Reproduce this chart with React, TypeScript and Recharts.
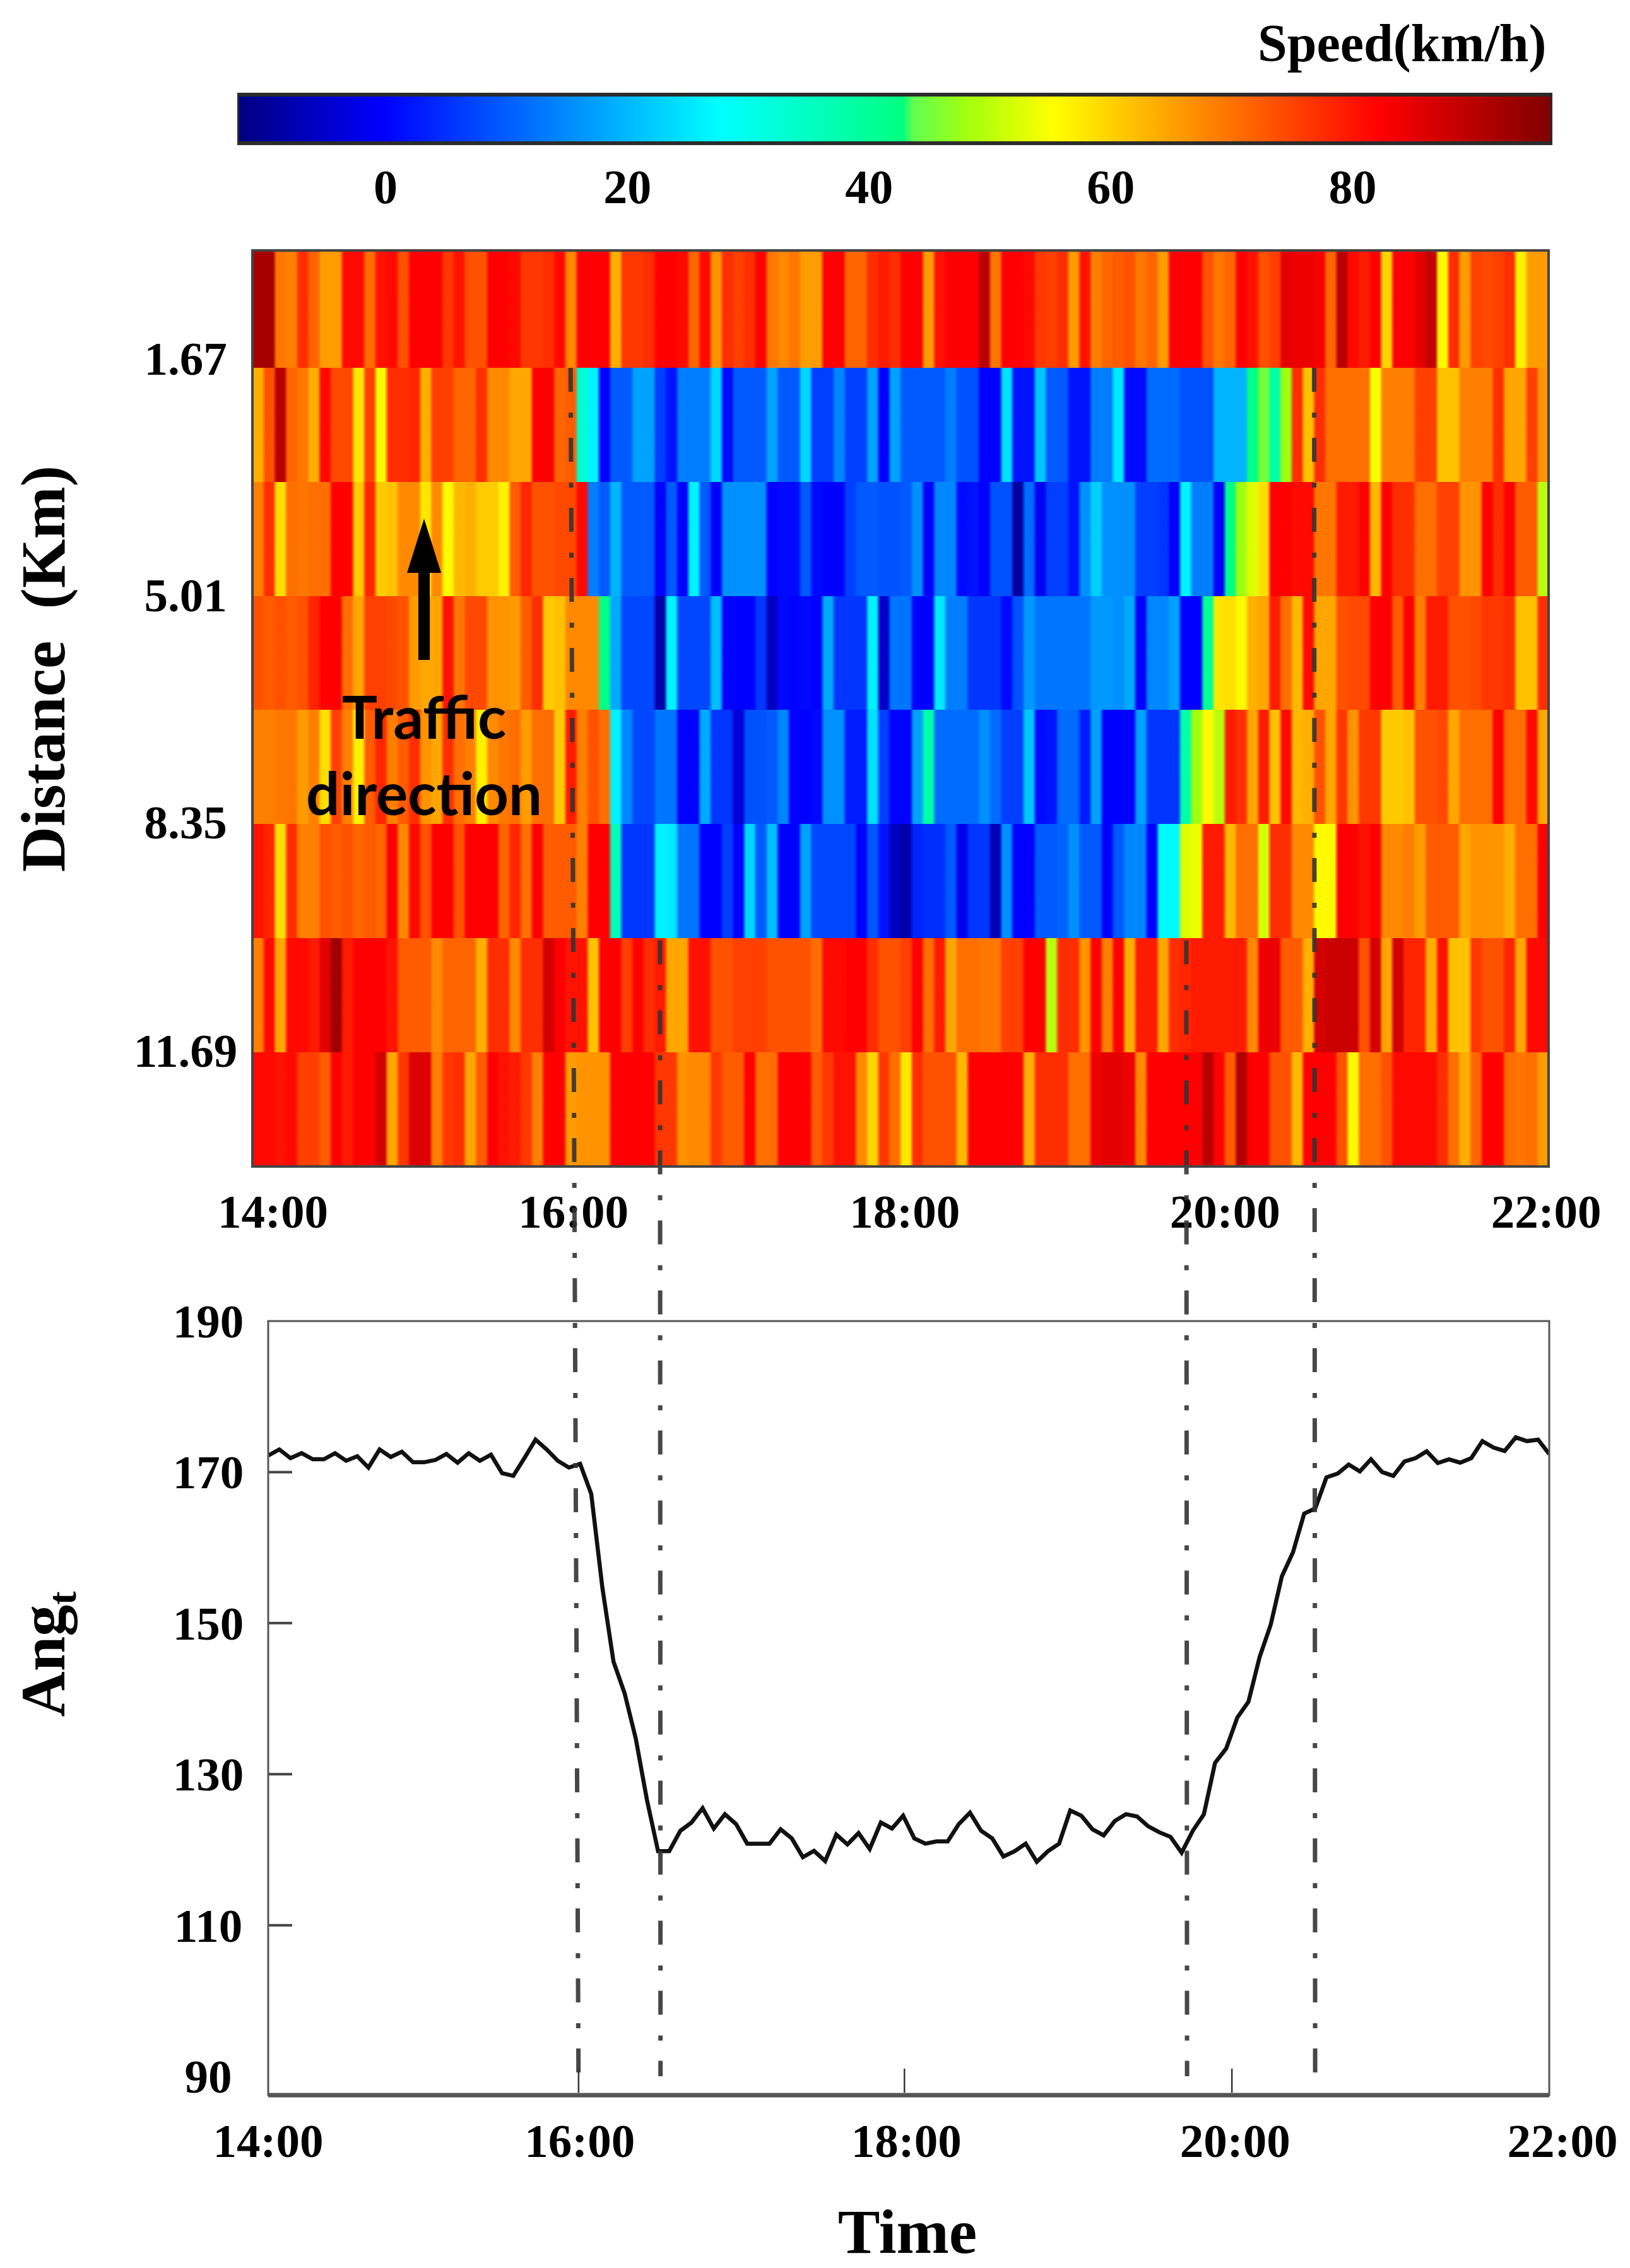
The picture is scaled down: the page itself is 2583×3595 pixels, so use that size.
/**
 * Speed heatmap and Ang_t curve on a shared time axis
 */

import React from 'react'
import {
  Bar,
  BarChart,
  Cell,
  Line,
  LineChart,
  XAxis,
  YAxis,
} from 'recharts'

const SERIF = '"Liberation Serif", serif'

// km/h, one list per 1.67 km road section, top of the plot first
const section1 = [
  95,95,72,71,80,74,68,68,84,84, 73,83,84,76,85,85,85,79,83,76,
  76,85,85,84,79,79,80,84,70,85, 85,85,66,79,79,80,85,85,84,74,
  84,69,80,78,80,85,72,70,72,68, 68,85,85,74,74,80,82,80,85,85,
  68,83,85,85,85,93,72,85,85,84, 79,78,80,68,83,71,74,75,76,72,
  74,68,85,85,85,76,72,74,85,83, 76,78,88,87,87,86,74,93,84,82,
  85,62,85,85,88,92,58,80,68,78, 77,78,80,59,68,68,
]
const section2 = [
  66,76,93,74,72,66,84,77,77,60, 78,58,80,80,81,66,78,78,74,74,
  80,70,70,67,67,85,85,74,75,35, 28,1,11,11,19,19,8,3,15,15,
  15,25,2,11,11,11,19,11,11,25, 8,8,16,8,8,19,1,19,11,11,
  11,11,15,10,10,1,1,26,3,3, 23,11,11,3,3,15,15,27,2,2,
  13,13,13,10,10,10,21,21,21,44, 47,40,50,80,64,80,73,73,73,73,
  57,71,71,71,78,78,64,64,71,71, 71,80,67,67,78,69,
]
const section3 = [
  71,80,61,73,72,73,73,85,85,63, 81,63,64,70,70,60,70,58,65,66,
  63,63,59,75,81,76,76,77,77,84, 15,11,21,11,11,11,1,11,1,28,
  11,1,17,17,17,17,1,2,2,11, 2,1,1,8,11,11,10,10,11,17,
  1,16,16,2,3,1,10,10,-8,13, 0,8,8,3,17,24,17,17,17,8,
  8,7,1,28,15,15,1,44,50,55, 61,85,85,84,84,72,72,82,82,85,
  65,85,80,80,73,73,78,78,69,69, 85,80,85,75,75,52,
]
const section4 = [
  76,75,76,75,76,81,85,85,73,67, 78,78,77,76,68,67,67,83,72,77,
  77,69,69,68,75,80,63,64,70,70, 70,44,20,9,9,9,-7,28,9,9,
  9,22,1,1,1,7,-5,2,1,2, 1,20,7,7,7,28,-4,14,14,1,
  1,27,15,15,7,7,7,2,10,18, 14,14,14,14,14,18,18,17,20,1,
  16,16,19,1,1,42,60,61,58,66, 67,82,73,65,84,67,67,76,77,77,
  85,85,75,85,71,82,82,76,76,77, 79,79,80,64,64,80,
]
const section5 = [
  71,71,72,72,68,71,61,78,71,59, 75,81,71,75,80,69,67,80,73,71,
  59,70,72,73,68,73,73,63,82,71, 76,73,28,16,9,9,14,14,1,1,
  20,7,7,-3,10,10,11,16,1,1, 2,17,17,4,4,26,8,1,1,19,
  40,13,13,13,13,17,13,8,8,23, 2,3,13,13,4,19,1,1,1,19,
  7,7,7,40,50,58,52,82,80,67, 82,64,84,65,66,76,67,79,69,79,
  79,63,63,64,76,76,77,67,73,73, 73,85,73,73,84,67,
]
const section6 = [
  83,81,61,80,71,71,76,75,76,74, 75,74,85,70,84,76,85,85,76,85,
  85,85,74,81,73,85,75,75,75,71, 85,85,38,7,7,7,28,27,14,14,
  1,1,8,1,25,11,22,1,1,19, 9,9,9,9,1,11,3,-5,-7,5,
  6,6,11,-1,7,7,-6,17,1,1, 11,11,12,17,11,11,1,11,16,16,
  1,29,29,55,56,82,82,65,73,73, 54,80,80,70,70,58,58,85,85,83,
  85,70,70,71,68,75,75,75,67,69, 69,69,66,73,73,85,
]
const section7 = [
  71,84,67,84,84,82,88,96,82,85, 85,85,83,75,75,75,70,74,74,74,
  66,80,80,70,80,80,90,85,83,83, 64,85,85,78,85,80,82,67,67,83,
  83,76,76,78,78,78,76,76,76,76, 73,84,84,85,85,80,76,76,78,85,
  73,82,67,73,73,72,72,78,78,85, 85,52,80,80,69,85,71,85,66,82,
  82,67,80,81,82,82,82,82,82,70, 87,87,75,75,66,90,91,91,91,76,
  90,67,90,81,81,66,83,64,64,79, 76,76,81,67,84,84,
]
const section8 = [
  84,84,83,84,78,78,75,85,82,85, 85,90,67,79,89,89,71,79,80,67,
  75,85,83,82,79,71,85,85,68,69, 69,69,85,85,85,85,79,79,69,70,
  70,79,75,75,85,73,73,85,85,85, 75,79,83,83,70,62,79,73,60,80,
  76,76,76,65,85,85,85,85,85,66, 80,80,80,73,73,87,88,88,87,70,
  85,85,85,85,85,93,85,75,94,85, 85,76,76,65,85,85,85,76,58,73,
  73,76,84,84,84,84,80,73,66,74, 85,85,73,72,73,68,
]
const sections = [section1, section2, section3, section4, section5, section6, section7, section8]

const SECTION_KM = 1.67
// the first row of the picture is drawn a little taller than the others
const FIRST_ROW_EXTRA = 0.046
const distanceTicks = [1.67, 5.01, 8.35, 11.69]
const timeLabels = ['14:00', '16:00', '18:00', '20:00', '22:00']
const heatTickSlots = [1, 28, 58, 87, 115]
const speedTicks = [0, 20, 40, 60, 80]
const angTicks = [190, 170, 150, 130, 110, 90]

// colour bar: speed -> colour
const speedStops: [number, string][] = [
  [-11.4, '#00007f'],
  [1, '#0000ff'],
  [29.4, '#00ffff'],
  [44.8, '#00ff80'],
  [45.6, '#60ff50'],
  [50, '#a0ff10'],
  [57.5, '#ffff00'],
  [71, '#ff8000'],
  [85, '#ff0000'],
  [99.6, '#7f0000'],
]

// Ang_t, sampled along the curve
const angValues = [
  172.2,173,171.85,172.5,171.7,171.7,172.5,171.5,172.1,170.6,
  173,172,172.7,171.3,171.3,171.6,172.4,171.25,172.5,171.5,
  172.3,169.85,169.5,171.85,174.3,173,171.5,170.6,171.1,167.1,
  154.7,144.9,140.7,134.7,126.6,119.8,119.8,122.5,123.6,125.5,
  122.8,124.7,123.4,120.8,120.8,120.8,122.7,121.5,119,119.85,
  118.5,122,120.7,122.2,120.1,123.6,122.8,124.5,121.5,
  120.8,121.1,121.1,123.4,124.9,122.5,121.5,119.1,119.8,120.8,
  118.4,119.8,120.8,125.2,124.5,122.7,121.9,123.8,124.7,124.4,
  123.1,122.3,121.7,119.6,122.5,124.7,131.5,133.4,137.5,139.6,
  145.5,149.8,156.2,159.4,164.5,165.2,169.3,169.8,171,170.1,
  171.7,170,169.5,171.4,171.85,172.75,171.2,171.7,171.25,171.85,
  174.1,173.25,172.8,174.6,174.1,174.3,172.4,
]
const angTickMinutes = [0, 116.3, 238.4, 361.1, 480]

// the four dash-dot guides, minutes after 14:00 at their upper and lower ends
const guideTop = [113.3, 146.8, 344, 391.9]
const guideBottom = [116.3, 147, 344.3, 392.3]
const guideUpperAng = [316.2, 240.4, 240.4, 316.2]
const guideLowerAng = [87.5, 90, 90, 87.5]

const hexToRgb = (hex: string) => [1, 3, 5].map((i) => parseInt(hex.slice(i, i + 2), 16))
const rgbToHex = (rgb: number[]) =>
  '#' + rgb.map((c) => Math.round(c).toString(16).padStart(2, '0')).join('')

const speedRgb = (speed: number) => {
  for (let i = 1; i < speedStops.length; i++) {
    if (speed <= speedStops[i][0]) {
      const [v0, c0] = speedStops[i - 1]
      const [v1, c1] = speedStops[i]
      const t = Math.max(0, (speed - v0) / (v1 - v0))
      const a = hexToRgb(c0)
      const b = hexToRgb(c1)
      return a.map((c, k) => c + (b[k] - c) * t)
    }
  }
  return hexToRgb(speedStops[speedStops.length - 1][1])
}
const blend = (a: number[], b: number[]) => rgbToHex(a.map((c, k) => (c + b[k]) / 2))

const heatData = section1.map((_, slot) => {
  const entry: Record<string, number> = { slot }
  sections.forEach((_s, r) => {
    entry[`s${r}`] = r === 0 ? SECTION_KM + FIRST_ROW_EXTRA : SECTION_KM
  })
  return entry
})
const speedBarData = [{ name: 'speed', range: [-11.4, 99.6] }]
const angData = angValues.map((ang, i) => ({ minute: (i * 480) / (angValues.length - 1), ang }))

const labelStyle = { fontFamily: SERIF, fontWeight: 700, fill: '#000' }

const HeatGradients = () => (
  <defs>
    {sections.map((row, r) =>
      row.map((speed, c) => {
        const cur = speedRgb(speed)
        const prev = speedRgb(row[Math.max(c - 1, 0)])
        const next = speedRgb(row[Math.min(c + 1, row.length - 1)])
        return (
          <linearGradient key={`${r}-${c}`} id={`cell-${r}-${c}`} x1="0" x2="1" y1="0" y2="0">
            <stop offset="0" stopColor={blend(prev, cur)} />
            <stop offset="0.18" stopColor={rgbToHex(cur)} />
            <stop offset="0.82" stopColor={rgbToHex(cur)} />
            <stop offset="1" stopColor={blend(cur, next)} />
          </linearGradient>
        )
      }),
    )}
  </defs>
)

const SpeedLegend = () => (
  <div style={{ position: 'absolute', left: 0, top: 0 }}>
    <BarChart
      width={2583}
      height={340}
      layout="vertical"
      data={speedBarData}
      barCategoryGap={0}
      margin={{ top: 150, right: 123, bottom: 0, left: 376 }}
    >
      <defs>
        <linearGradient id="speedBar" x1="0" x2="1" y1="0" y2="0">
          {speedStops.map(([v, c]) => (
            <stop key={v} offset={(v + 11.4) / 111} stopColor={c} />
          ))}
        </linearGradient>
      </defs>
      <XAxis
        type="number"
        domain={[-11.4, 99.6]}
        ticks={speedTicks}
        interval={0}
        axisLine={false}
        tickLine={false}
        allowDataOverflow
        height={113}
        tick={(p: any) => (
          <text
            {...labelStyle}
            x={p.x + 21 + p.payload.value * 0.38}
            y={322}
            fontSize={76}
            textAnchor="middle"
          >
            {p.payload.value}
          </text>
        )}
      />
      <YAxis type="category" dataKey="name" hide />
      <Bar
        dataKey="range"
        fill="url(#speedBar)"
        stroke="#2b2b2b"
        strokeWidth={6}
        isAnimationActive={false}
      />
    </BarChart>
  </div>
)

const SpeedHeatmap = () => (
  <div style={{ position: 'absolute', left: 0, top: 0 }}>
    <BarChart
      width={2583}
      height={2000}
      data={heatData}
      barCategoryGap={0}
      barGap={0}
      margin={{ top: 397, right: 129, bottom: 0, left: 300 }}
    >
      <HeatGradients />
      <XAxis
        dataKey="slot"
        type="category"
        interval={0}
        height={151}
        axisLine={false}
        tickLine={false}
        tick={(p: any) => {
          const i = heatTickSlots.indexOf(p.payload.value)
          if (i < 0) return <g />
          const nudge = [6, 4, -2, -8, 5][i]
          return (
            <text {...labelStyle} x={p.x + nudge} y={1946} fontSize={75} textAnchor="middle">
              {timeLabels[i]}
            </text>
          )
        }}
      />
      <YAxis
        type="number"
        reversed
        domain={[0, SECTION_KM * 8 + FIRST_ROW_EXTRA]}
        allowDataOverflow
        ticks={distanceTicks.map((km) => km + FIRST_ROW_EXTRA)}
        interval={0}
        width={100}
        axisLine={false}
        tickLine={false}
        tick={(p: any) => (
          <text
            {...labelStyle}
            x={294}
            y={p.y + [11, 24, 23, 23][p.index]}
            fontSize={75}
            textAnchor="middle"
          >
            {distanceTicks[p.index]}
          </text>
        )}
      />
      {sections.map((row, r) => (
        <Bar key={r} dataKey={`s${r}`} stackId="road" isAnimationActive={false}>
          {row.map((_, c) => (
            <Cell key={c} fill={`url(#cell-${r}-${c})`} shapeRendering="crispEdges" />
          ))}
        </Bar>
      ))}
    </BarChart>
  </div>
)

const AngChart = () => (
  <div style={{ position: 'absolute', left: 0, top: 2000 }}>
    <LineChart
      width={2583}
      height={1595}
      data={angData}
      margin={{ top: 94, right: 128, bottom: 0, left: 325 }}
    >
      <XAxis
        dataKey="minute"
        type="number"
        domain={[0, 480]}
        ticks={angTickMinutes}
        interval={0}
        height={274}
        axisLine={false}
        tickLine={false}
        allowDataOverflow
        tick={(p: any) => {
          const i = angTickMinutes.indexOf(p.payload.value)
          const nudge = [0, 2, 3, 5, 21][i]
          return (
            <g>
              {i > 0 && i < 4 && (
                <line x1={p.x} x2={p.x} y1={p.y - 50} y2={p.y - 12} stroke="#333" strokeWidth={2.5} />
              )}
              <text {...labelStyle} x={p.x + nudge} y={1419} fontSize={75} textAnchor="middle">
                {timeLabels[i]}
              </text>
            </g>
          )
        }}
      />
      <YAxis
        type="number"
        domain={[87.5, 190]}
        allowDataOverflow
        ticks={angTicks}
        interval={0}
        width={100}
        axisLine={false}
        tickLine={false}
        tick={(p: any) => {
          const v = p.payload.value
          return (
            <g>
              {v > 90 && v < 190 && (
                <line x1={425} x2={463} y1={p.y} y2={p.y} stroke="#444" strokeWidth={4} />
              )}
              <text {...labelStyle} x={330} y={p.y + 26} fontSize={75} textAnchor="middle">
                {v}
              </text>
            </g>
          )
        }}
      />
      <Line
        dataKey="ang"
        type="linear"
        stroke="#111"
        strokeWidth={6.5}
        dot={false}
        isAnimationActive={false}
      />
    </LineChart>
  </div>
)

const GuideLines = () => (
  <div style={{ position: 'absolute', left: 0, top: 0 }}>
    <LineChart
      width={2583}
      height={3321}
      margin={{ top: 583, right: 128, bottom: 0, left: 425 }}
    >
      <XAxis dataKey="minute" type="number" domain={[0, 480]} hide allowDataOverflow />
      <YAxis type="number" domain={[87.5, 316.2]} hide allowDataOverflow />
      {guideTop.map((minute, i) => (
        <Line
          key={i}
          data={[
            { minute, ang: guideUpperAng[i] },
            { minute: guideBottom[i], ang: guideLowerAng[i] },
          ]}
          dataKey="ang"
          type="linear"
          stroke="#333"
          strokeOpacity={0.9}
          strokeWidth={7}
          strokeDasharray="38 33 8 32"
          dot={false}
          isAnimationActive={false}
        />
      ))}
    </LineChart>
  </div>
)

const Annotations = () => (
  <svg
    width={2583}
    height={3595}
    style={{ position: 'absolute', left: 0, top: 0, pointerEvents: 'none' }}
  >
    <rect x={400} y={397} width={2054} height={1452} fill="none" stroke="#444" strokeWidth={4} />
    <rect x={425} y={2094} width={2030} height={1227} fill="none" stroke="#555" strokeWidth={3} />
    <line x1={425} x2={2455} y1={3321} y2={3321} stroke="#555" strokeWidth={7} />

    <text {...labelStyle} x={1993} y={97} fontSize={84}>Speed(km/h)</text>
    <text
      {...labelStyle}
      fontSize={100}
      textAnchor="middle"
      xmlSpace="preserve"
      transform="translate(102 1060) rotate(-90)"
    >
      {'Distance  (Km)'}
    </text>
    <text {...labelStyle} fontSize={100} textAnchor="middle" transform="translate(102 2622) rotate(-90)">
      Ang
      <tspan fontSize={64} dy={18}>t</tspan>
    </text>
    <text {...labelStyle} x={1438} y={3571} fontSize={100} textAnchor="middle">Time</text>

    <polygon points="672,822 645,908 699,908" fill="#000" />
    <rect x={663} y={906} width={18} height={140} fill="#000" />
    <g fontFamily="Lato, sans-serif" fontWeight={700} fontSize={94} textAnchor="middle" fill="#000">
      <text x={672} y={1171}>Traffic</text>
      <text x={672} y={1292}>direction</text>
    </g>
  </svg>
)

export default function App() {
  return (
    <div style={{ position: 'absolute', left: 0, top: 0, width: 2583, height: 3595, background: '#fff' }}>
      <SpeedLegend />
      <SpeedHeatmap />
      <AngChart />
      <GuideLines />
      <Annotations />
    </div>
  )
}
